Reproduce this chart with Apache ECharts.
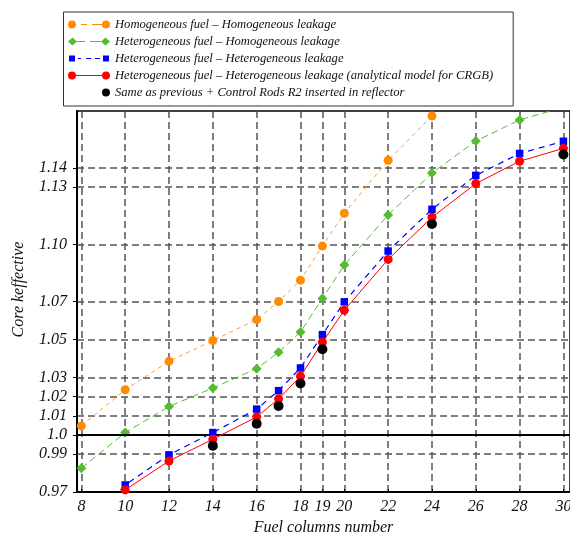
<!DOCTYPE html>
<html>
<head>
<meta charset="utf-8">
<script src="https://cdn.jsdelivr.net/npm/echarts@6/dist/echarts.min.js"></script>
<style>html,body{margin:0;padding:0;background:#fff;}#c{width:570px;height:533px;}</style>
</head>
<body>
<div id="c"></div>
<script>
const fuelColumns = [8, 10, 12, 14, 16, 17, 18, 19, 20, 22, 24, 26, 28, 30];
const homFuelHomLeak = [1.0047, 1.0237, 1.0386, 1.0495, 1.0605, 1.0700, 1.0812, 1.0991, 1.1163, 1.1441, 1.1674, null, null, null];
const hetFuelHomLeak = [0.9825, 1.0012, 1.0149, 1.0246, 1.0347, 1.0433, 1.0540, 1.0716, 1.0891, 1.1154, 1.1374, 1.1542, 1.1653, 1.1720];
const hetFuelHetLeak = [0.9510, 0.9737, 0.9895, 1.0012, 1.0135, 1.0232, 1.0351, 1.0526, 1.0698, 1.0965, 1.1184, 1.1362, 1.1477, 1.1541];
const analyticalCRGB = [null, 0.9711, 0.9863, 0.9977, 1.0094, 1.0189, 1.0307, 1.0486, 1.0654, 1.0921, 1.1142, 1.1319, 1.1436, 1.1504];
const rodsInserted = [null, null, null, 0.9943, 1.0058, 1.0151, 1.0270, 1.0449, null, null, 1.1107, null, null, 1.1472];
const seriesNames = [
  'Homogeneous fuel – Homogeneous leakage',
  'Heterogeneous fuel – Homogeneous leakage',
  'Heterogeneous fuel – Heterogeneous leakage',
  'Heterogeneous fuel – Heterogeneous leakage (analytical model for CRGB)',
  'Same as previous + Control Rods R2 inserted in reflector'
];
const yTicks = [0.97, 0.99, 1.0, 1.01, 1.02, 1.03, 1.05, 1.07, 1.10, 1.13, 1.14];
const yTickLabels = ['0.97', '0.99', '1.0', '1.01', '1.02', '1.03', '1.05', '1.07', '1.10', '1.13', '1.14'];
const xTicks = [8, 10, 12, 14, 16, 18, 19, 20, 22, 24, 26, 28, 30];

function pairs(vals) {
  const out = [];
  vals.forEach((v, i) => { if (v !== null) out.push([fuelColumns[i], v]); });
  return out;
}

const FONT = 'Liberation Serif';
const circL = 'M0,4 A4,4 0 1 1 8,4 A4,4 0 1 1 0,4 Z ';
const circR = 'M34,4 A4,4 0 1 1 42,4 A4,4 0 1 1 34,4 Z ';
const anchors = 'M0,0 L0.01,0 L0,0.01 Z M42,8 L41.99,8 L42,7.99 Z ';
const icons = [
  'path://' + circL + circR + 'M13,3.5 H19 V4.5 H13 Z M24,3.5 H34 V4.5 H24 Z',
  'path://M4.5,0 L9,4 L4.5,8 L0,4 Z M37.5,0 L42,4 L37.5,8 L33,4 Z M9,3.5 H17 V4.5 H9 Z M22,3.5 H33 V4.5 H22 Z',
  'path://' + anchors + 'M1,1 H7 V7 H1 Z M35,1 H41 V7 H35 Z M10,3.5 H13 V4.5 H10 Z M18,3.5 H23 V4.5 H18 Z M27,3.5 H32 V4.5 H27 Z',
  'path://' + circL + circR + 'M8,3.5 H34 V4.5 H8 Z',
  'path://' + anchors + circR
];

const chart = echarts.init(document.getElementById('c'), null, {renderer: 'canvas'});
const gridLine = {show: true, lineStyle: {color: '#555', width: 1.5, type: [7, 4]}};
chart.setOption({
  animation: false,
  backgroundColor: '#fff',
  textStyle: {fontFamily: FONT},
  legend: {
    orient: 'vertical',
    left: 63.5, top: 12,
    padding: [4, 20, 5, 4.5],
    itemWidth: 42, itemHeight: 8, itemGap: 0,
    borderColor: '#333', borderWidth: 1,
    itemStyle: {borderWidth: 0, opacity: 1},
    textStyle: {fontFamily: FONT, fontStyle: 'italic', fontSize: 12.6, lineHeight: 17, color: '#111'},
    data: seriesNames.map((n, i) => ({name: n, icon: icons[i]}))
  },
  grid: {left: 77, right: 0, top: 111, bottom: 41, show: true, borderColor: '#000', borderWidth: 1.5, containLabel: false, outerBoundsMode: 'none'},
  xAxis: {
    type: 'value', min: 7.8, max: 30.3,
    name: 'Fuel columns number', nameLocation: 'middle', nameGap: 28,
    nameTextStyle: {fontFamily: FONT, fontStyle: 'italic', fontSize: 16, color: '#111'},
    axisLine: {show: true, onZero: false, lineStyle: {color: '#000', width: 2}},
    axisTick: {show: true, customValues: xTicks, length: 3, inside: true, lineStyle: {color: '#000'}},
    axisLabel: {customValues: xTicks, fontFamily: FONT, fontStyle: 'italic', fontSize: 16, color: '#111', margin: 7},
    splitLine: gridLine
  },
  yAxis: {
    type: 'value', min: 0.97, max: 1.17,
    name: 'Core keffective', nameLocation: 'middle', nameGap: 50, nameRotate: 90,
    nameTextStyle: {fontFamily: FONT, fontStyle: 'italic', fontSize: 16, color: '#111', padding: [0, 0, 0, 24]},
    axisLine: {show: true, onZero: false, lineStyle: {color: '#000', width: 2}},
    axisTick: {show: true, customValues: yTicks, length: 4, lineStyle: {color: '#000'}},
    axisLabel: {
      customValues: yTicks, fontFamily: FONT, fontStyle: 'italic', fontSize: 16, color: '#111', margin: 10,
      formatter: v => {
        const i = yTicks.findIndex(t => Math.abs(t - v) < 1e-6);
        return i >= 0 ? yTickLabels[i] : '';
      }
    },
    splitLine: gridLine
  },
  series: [
    {
      name: seriesNames[0], type: 'line', data: pairs(homFuelHomLeak),
      color: '#ff8c00', symbol: 'circle', symbolSize: 9,
      lineStyle: {width: 1, type: [4, 4], color: '#ff9a2a'},
      markLine: {
        silent: true, symbol: 'none', label: {show: false},
        lineStyle: {color: '#000', width: 2, type: 'solid'},
        data: [{yAxis: 1.0}]
      },
      z: 3
    },
    {
      name: seriesNames[1], type: 'line', data: pairs(hetFuelHomLeak),
      color: '#55bb33', symbol: 'diamond', symbolSize: 10,
      lineStyle: {width: 1, type: [7, 4]}, z: 4
    },
    {
      name: seriesNames[2], type: 'line', data: pairs(hetFuelHetLeak),
      color: '#0000ff', symbol: 'rect', symbolSize: 7.5,
      lineStyle: {width: 1.2, type: [6, 5]}, z: 5
    },
    {
      name: seriesNames[3], type: 'line', data: pairs(analyticalCRGB),
      color: '#ff0000', symbol: 'circle', symbolSize: 9,
      lineStyle: {width: 1, type: 'solid'}, z: 6
    },
    {
      name: seriesNames[4], type: 'scatter', data: pairs(rodsInserted),
      color: '#000', symbol: 'circle', symbolSize: 10, itemStyle: {opacity: 1}, z: 7
    }
  ]
});
</script>
</body>
</html>
